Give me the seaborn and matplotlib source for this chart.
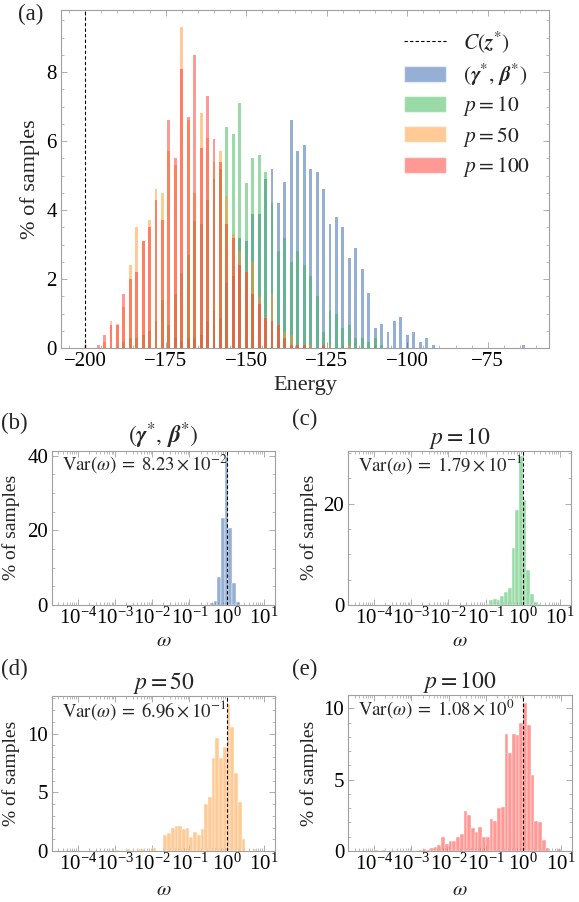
import numpy as np
import matplotlib
matplotlib.use("Agg")
import matplotlib.pyplot as plt
from matplotlib.lines import Line2D
from matplotlib.patches import Patch
from matplotlib.ticker import (MultipleLocator, FixedLocator, LogLocator,
                               LogFormatterMathtext, NullFormatter)
import seaborn as sns

# ---- panel (a): % of samples per energy (even energies -200 .. -64) ----
energy = np.arange(-200, -62, 2)

pct_opt = [0, 0, 0, 0, 0, 0, 0, 0, 0, 0,
           0, 0, 0, 0, 0.28, 0.2, 0.28, 0.28, 0.38, 0.78,
           1.08, 0.88, 1.87, 2.1, 3.2, 3.1, 3.88, 3.88, 4.9, 5.2,
           4.2, 4.8, 6.6, 5.7, 5.9, 5.2, 5.1, 4.6, 3.6, 3.8,
           3.5, 2.6, 2.9, 2.3, 1.6, 0.59, 0.69, 0.47, 0.78, 0.89,
           0.38, 0.47, 0.16, 0.28, 0.09, 0, 0, 0, 0, 0,
           0, 0, 0, 0, 0, 0, 0, 0, 0.09]
pct_p10 = [0, 0, 0, 0, 0, 0, 0.18, 0.28, 0.28, 0.38,
           0.48, 0.78, 1.39, 0.67, 1.58, 2.18, 2.7, 3.68, 3.59, 4.29,
           4.9, 5.19, 6.4, 6.2, 7.1, 4.79, 5.5, 5.59, 5.09, 4.2,
           2.8, 3.2, 2.5, 2.8, 2.4, 2.1, 1.5, 0.47, 1.08, 0.99,
           0.57, 0.67, 0.28, 0.28, 0.18, 0.28, 0.09, 0, 0, 0,
           0, 0, 0, 0, 0, 0, 0, 0, 0, 0,
           0, 0, 0, 0, 0, 0, 0, 0, 0]
pct_p50 = [0.09, 0, 0, 0.18, 0.78, 0.7, 1.2, 2.4, 3.5, 3.1,
           3.7, 4.6, 4.5, 5.7, 5.3, 9.3, 6.6, 4.5, 6.8, 6.1,
           5.4, 5.7, 4.4, 3.3, 2.8, 2.2, 2.48, 1.49, 0.9, 1.58,
           0.67, 0.47, 0.38, 0.1, 0.1, 0.1, 0, 0.05, 0.1, 0,
           0, 0.1, 0, 0, 0, 0, 0, 0, 0, 0,
           0, 0, 0, 0, 0, 0, 0, 0, 0, 0,
           0, 0, 0, 0, 0, 0, 0, 0, 0]
pct_p100 = [0, 0, 0.1, 0.38, 0.68, 0.68, 1.58, 2.0, 2.2, 3.1,
            3.5, 4.3, 3.7, 6.6, 5.5, 8.1, 6.7, 8.5, 5.8, 7.3,
            6.05, 5.4, 3.6, 3.2, 2.4, 2.2, 1.58, 1.28, 0.88, 0.78,
            0.67, 0.28, 0.1, 0.1, 0.1, 0, 0, 0.1, 0, 0,
            0, 0, 0, 0, 0, 0, 0, 0, 0, 0,
            0, 0, 0, 0, 0, 0, 0, 0, 0, 0,
            0, 0, 0, 0, 0, 0, 0, 0, 0]
c_opt = -200

# ---- panels (b)-(e): % of samples vs log10(omega) bin centre ----
b_logw = [-0.4, -0.3, -0.2, -0.1, 0.0, 0.1, 0.2, 0.3]
b_pct = [0.4, 1.0, 7.6, 23.3, 39.8, 20.6, 5.8, 0.9]

c_logw = [-0.95, -0.85, -0.75, -0.65, -0.55, -0.45, -0.35, -0.25, -0.15, -0.05,
          0.05, 0.15, 0.25, 0.35, 0.45]
c_pct = [0.2, 1.0, 1.2, 1.0, 1.8, 2.5, 3.4, 11.3, 18.8, 29.5,
         20.8, 7.0, 2.1, 0.6, 0.2]

d_logw = [-2.95, -2.65, -2.35, -2.25, -1.95, -1.85, -1.75,
          -1.65, -1.55, -1.45, -1.35, -1.25, -1.15, -1.05, -0.95, -0.85, -0.75,
          -0.65, -0.55, -0.45, -0.35, -0.25, -0.15, -0.05,
          0.05, 0.15, 0.25, 0.35, 0.45, 0.75]
d_pct = [0.05, 0.15, 0.2, 0.2, 0.3, 0.0, 0.0,
         1.36, 1.5, 2.0, 2.12, 2.15, 1.87, 1.98, 1.22, 1.64, 1.36,
         1.84, 4.0, 4.6, 7.9, 9.6, 7.9, 8.9,
         12.5, 10.6, 6.66, 4.16, 1.0, 0.14]

e_logw = [-3.95, -3.75, -2.75, -2.65, -2.55, -2.45, -2.35, -2.25, -2.15, -2.05,
          -1.95, -1.85, -1.75, -1.65, -1.55, -1.45, -1.35, -1.25, -1.15, -1.05,
          -0.95, -0.85, -0.75, -0.65, -0.55, -0.45, -0.35, -0.25, -0.15, -0.05,
          0.05, 0.15, 0.25, 0.35, 0.45, 0.55, 0.65, 0.95]
e_pct = [0.1, 0.05, 0.1, 0.15, 0.1, 0.2, 0.3, 0.45, 1.0, 0.5,
         0.7, 0.7, 0.95, 1.2, 2.8, 2.5, 1.6, 1.3, 1.65, 1.0,
         1.0, 2.25, 2.1, 3.0, 3.1, 8.2, 6.9, 8.2, 8.1, 9.0,
         10.4, 8.8, 5.3, 2.1, 2.0, 0.8, 0.2, 0.15]

var_text = [r"$\mathrm{Var}(\omega)\;=\;8.23\times10^{-2}$",
            r"$\mathrm{Var}(\omega)\;=\;1.79\times10^{-1}$",
            r"$\mathrm{Var}(\omega)\;=\;6.96\times10^{-1}$",
            r"$\mathrm{Var}(\omega)\;=\;1.08\times10^{0}$"]
omega_decades = [1e-4, 1e-3, 1e-2, 1e-1, 1e0, 1e1]

col_blue = "#2f63ad"
col_green = "#35b751"
col_orange = "#ff972d"
col_red = "#ff352d"

sns.set_theme(style="ticks")
plt.rcParams["font.family"] = ["Liberation Serif", "DejaVu Serif"]
plt.rcParams["mathtext.fontset"] = "stix"
plt.rcParams.update({
    "axes.edgecolor": "#a0a0a0", "axes.linewidth": 0.8,
    "xtick.direction": "in", "ytick.direction": "in",
    "xtick.top": True, "ytick.right": True,
    "xtick.color": "#a0a0a0", "ytick.color": "#a0a0a0",
    "xtick.labelcolor": "black", "ytick.labelcolor": "black",
    "xtick.major.size": 4, "ytick.major.size": 4,
    "xtick.minor.size": 2, "ytick.minor.size": 2,
    "xtick.major.width": 0.6, "ytick.major.width": 0.6,
    "xtick.minor.width": 0.5, "ytick.minor.width": 0.5,
    "xtick.major.pad": 3, "ytick.major.pad": 3,
})

fig = plt.figure(figsize=(5.79, 9.02), dpi=100)

# === (a) energy histogram ===
ax = fig.add_axes([0.1054, 0.6142, 0.8428, 0.3747])
for vals, col in [(pct_opt, col_blue), (pct_p10, col_green),
                  (pct_p50, col_orange), (pct_p100, col_red)]:
    sns.histplot(x=energy, weights=vals, discrete=True, shrink=0.9,
                 color=col, alpha=0.5, linewidth=0, ax=ax)
ax.axvline(c_opt, color="black", ls=(0, (3, 2)), lw=0.8)
ax.set_xlim(-207.5, -56)
ax.set_ylim(0, 9.8)
ax.xaxis.set_major_locator(MultipleLocator(25))
ax.xaxis.set_minor_locator(MultipleLocator(5))
ax.yaxis.set_major_locator(MultipleLocator(2))
ax.yaxis.set_minor_locator(MultipleLocator(0.5))
ax.tick_params(labelsize=15)
ax.set_xlabel("Energy", fontsize=16)
ax.set_ylabel("% of samples", fontsize=16)
ax.xaxis.set_label_coords(0.5, -0.083)
ax.yaxis.set_label_coords(-0.043, 0.5)

handles = [Line2D([], [], color="black", ls=(0, (3, 2)), lw=0.8),
           Patch(facecolor=col_blue, alpha=0.5),
           Patch(facecolor=col_green, alpha=0.5),
           Patch(facecolor=col_orange, alpha=0.5),
           Patch(facecolor=col_red, alpha=0.5)]
labels = [r"$C(\boldsymbol{z}^{*})$",
          r"$(\boldsymbol{\gamma}^{*},\,\boldsymbol{\beta}^{*})$",
          r"$p = 10$", r"$p = 50$", r"$p = 100$"]
ax.legend(handles, labels, loc="upper left", bbox_to_anchor=(0.68, 0.975),
          frameon=False, fontsize=15.5, handlelength=1.95, handleheight=0.75,
          handletextpad=0.8, labelspacing=0.3, borderpad=0)

# === (b)-(e) omega histograms ===
small = [
    ([0.0903, 0.3293, 0.3846, 0.1711], b_logw, b_pct, col_blue,
     r"$(\boldsymbol{\gamma}^{*},\,\boldsymbol{\beta}^{*})$", 41.4, 20, 5, -0.145, -0.175),
    ([0.6016, 0.3293, 0.3846, 0.1711], c_logw, c_pct, col_green,
     r"$p = 10$", 30.5, 20, 5, -0.136, -0.175),
    ([0.0903, 0.0565, 0.3846, 0.1718], d_logw, d_pct, col_orange,
     r"$p = 50$", 13.2, 5, 1, -0.145, -0.195),
    ([0.6016, 0.0565, 0.3858, 0.1729], e_logw, e_pct, col_red,
     r"$p = 100$", 10.93, 5, 1, -0.136, -0.195),
]
for i, (pos, logw, pct, col, title, ytop, ymaj, ymin, ylx, xly) in enumerate(small):
    a = fig.add_axes(pos)
    lo, hi = min(logw) - 0.05, max(logw) + 0.05
    sns.histplot(x=10 ** np.array(logw), weights=pct, log_scale=True,
                 binwidth=0.1, binrange=(lo, hi), color=col, alpha=0.5,
                 edgecolor="white", linewidth=0.3, ax=a)
    a.axvline(1, color="black", ls=(0, (3, 2)), lw=0.8)
    a.set_xlim(10 ** -4.69, 10 ** 1.3)
    a.set_ylim(0, ytop)
    a.xaxis.set_major_locator(FixedLocator(omega_decades))
    a.xaxis.set_major_formatter(LogFormatterMathtext())
    a.xaxis.set_minor_locator(LogLocator(base=10, subs=np.arange(2, 10), numticks=12))
    a.xaxis.set_minor_formatter(NullFormatter())
    a.yaxis.set_major_locator(MultipleLocator(ymaj))
    a.yaxis.set_minor_locator(MultipleLocator(ymin))
    a.tick_params(labelsize=15)
    a.tick_params(axis="x", pad=2)
    a.set_xlabel(r"$\omega$", fontsize=15)
    a.set_ylabel("% of samples", fontsize=14)
    a.yaxis.set_label_coords(ylx, 0.5)
    a.xaxis.set_label_coords(0.5, xly)
    a.set_title(title, fontsize=17, pad=1)
    a.text(0.045, 0.91, var_text[i], transform=a.transAxes, fontsize=13.5,
           ha="left", va="center")

# panel letters
for lab, x, y in [("(a)", 18, 14), ("(b)", 1, 423), ("(c)", 292, 419),
                  ("(d)", 1, 669), ("(e)", 292, 669)]:
    fig.text(x / 579, 1 - y / 902, lab, fontsize=16.5, ha="left", va="center")

fig.savefig("out.png", dpi=100)
